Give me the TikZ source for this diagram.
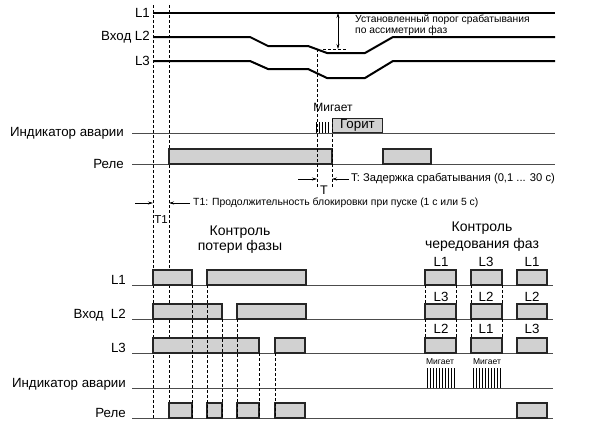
\documentclass[tikz,border=0pt]{standalone}
\usepackage{fontspec}
\setmainfont{Liberation Sans}
\usetikzlibrary{arrows.meta}

\begin{document}
\begin{tikzpicture}[x=1pt,y=-1pt,
    font=\fontsize{13.3}{15}\selectfont,
    phase/.style={line width=2pt,line join=round},
    track/.style={line width=0.9pt,black!70},
    pulse/.style={draw=black!85,line width=1.1pt,fill=black!18},
    guide/.style={dash pattern=on 3pt off 2pt,line width=0.6pt},
    dim/.style={-{Stealth[length=5pt,width=3pt]},line width=0.6pt},
    blink/.style={line width=0.8pt},
    lbl/.style={anchor=east,inner sep=0pt},
    lblb/.style={anchor=base east,inner sep=0pt},
    note/.style={anchor=west,inner sep=0pt,font=\fontsize{10.8}{12}\selectfont},
    tiny/.style={font=\fontsize{8.5}{9}\selectfont,inner sep=0pt}]
  \useasboundingbox (0,0) rectangle (608,423);

  \node[lbl] (inL1) at (150,13) {L1};
  \node[lbl] (inL2) at (150,37) {Вход L2};
  \node[lbl] (inL3) at (150,61) {L3};
  \node[lbl] (alarmTop) at (124,133) {Индикатор аварии};
  \node[lbl] (relayTop) at (124,164) {Реле};

  \draw[guide] (153,5) -- (153,418);
  \draw[guide] (169,5) -- (169,418);

  \draw[phase] (153,13) -- (555,13);
  \draw[phase] (153,37) -- (250,37) -- (268,46) -- (308,46) -- (327,53) -- (365,53) -- (393,37) -- (555,37);
  \draw[phase] (153,61) -- (250,61) -- (268,69) -- (308,69) -- (327,78) -- (365,78) -- (393,61) -- (555,61);

  \coordinate (thrTop) at (338,13);
  \coordinate (thrLow) at (338,49);
  \draw[dim,{Stealth[length=5pt,width=3pt]}-{Stealth[length=5pt,width=3pt]}] (thrTop) -- (thrLow);
  \draw[guide] (323,49) -- (347,49);
  \node[anchor=west,align=left,inner sep=0pt,font=\fontsize{10.3}{9.3}\selectfont] (thrText) at (355,25.5)
    {Установленный порог срабатывания\\по ассиметрии фаз};

  \draw[track] (alarmTop.east) ++(8,0) -- (555,133);
  \draw[track] (relayTop.east) ++(8,0) -- (555,164);
  \draw[pulse] (169,164) rectangle (332,149);
  \draw[pulse] (383,164) rectangle (431,149);

  \node[inner sep=0pt,font=\fontsize{12}{13}\selectfont] (blinkTop) at (333,107) {Мигает};
  \foreach \i in {0,...,4}
    \draw[blink] (316+\i*3.2,122) -- ++(0,11);
  \node[pulse,line width=0.9pt,minimum width=50pt,minimum height=14pt,inner sep=0pt,anchor=south west] (litTop) at (332,133) {Горит};

  \draw[guide] (317,49) -- (317,187);
  \draw[guide] (332,119) -- (332,187);

  \coordinate (tLeft) at (298,179);
  \coordinate (tA) at (317,179);
  \coordinate (tB) at (332,179);
  \coordinate (tRight) at (349,179);
  \draw[dim] (tLeft) -- (tA);
  \draw[dim] (tRight) -- (tB);
  \node[inner sep=0pt,font=\fontsize{12.5}{13}\selectfont] (tMark) at (324,190) {T};
  \node[note,font=\fontsize{11.2}{12}\selectfont] (tText) at (351,179) {T: Задержка срабатывания (0,1 ... 30 с)};

  \coordinate (t1Left) at (135,203);
  \coordinate (t1A) at (153,203);
  \coordinate (t1B) at (169,203);
  \coordinate (t1Right) at (190,203);
  \draw[dim] (t1Left) -- (t1A);
  \draw[dim] (t1Right) -- (t1B);
  \node[note,font=\fontsize{10.4}{12}\selectfont] (t1Text) at (193,203) {T1: Продолжительность блокировки при пуске (1 с или 5 с)};
  \node[inner sep=0pt,font=\fontsize{11.5}{12}\selectfont] (t1Mark) at (161,220) {T1};

  \node[align=center,inner sep=0pt,font=\fontsize{14}{15.5}\selectfont] (lossTitle) at (240,239.5) {Контроль\\потери фазы};
  \node[align=center,inner sep=0pt,font=\fontsize{14}{17}\selectfont] (seqTitle) at (482,236.5) {Контроль\\чередования фаз};

  \node[lblb] (outL1) at (126,284) {L1};
  \node[lblb] (outL2) at (126,318) {Вход\ \ L2};
  \node[lblb] (outL3) at (126,352) {L3};
  \node[lblb] (alarmBot) at (126,387) {Индикатор аварии};
  \node[lblb] (relayBot) at (126,417) {Реле};

  \foreach \y in {285,319,353,388,418}
    \draw[track] (132,\y) -- (553,\y);

  \foreach \a/\b/\y in {153/192/285,207/306/285,425/456/285,471/502/285,517/547/285,
                        153/222/319,237/306/319,425/456/319,471/502/319,517/547/319,
                        153/259/353,275/305/353,425/456/353,471/502/353,517/547/353,
                        169/192/418,207/222/418,237/259/418,275/305/418,517/547/418}
    \draw[pulse] (\a,\y) rectangle (\b,{\y-15});

  \foreach \x/\y in {192/285,207/285,222/319,237/319,259/353,275/353}
    \draw[guide] (\x,\y) -- (\x,418);
  \foreach \x in {425,456,471,502} {
    \draw[guide] (\x,285) -- (\x,304);
    \draw[guide] (\x,319) -- (\x,338);
  }

  \node[inner sep=0pt] (seqA1) at (441,262) {L1};
  \node[inner sep=0pt] (seqB1) at (486,262) {L3};
  \node[inner sep=0pt] (seqC1) at (532,262) {L1};
  \node[inner sep=0pt] (seqA2) at (441,297) {L3};
  \node[inner sep=0pt] (seqB2) at (486,297) {L2};
  \node[inner sep=0pt] (seqC2) at (532,297) {L2};
  \node[inner sep=0pt] (seqA3) at (441,329) {L2};
  \node[inner sep=0pt] (seqB3) at (486,329) {L1};
  \node[inner sep=0pt] (seqC3) at (532,329) {L3};

  \node[tiny] (blinkA) at (440,362) {Мигает};
  \node[tiny] (blinkB) at (487,362) {Мигает};
  \foreach \s in {427,473}
    \foreach \i in {0,...,9}
      \draw[blink] (\s+\i*3,368) -- ++(0,20);
\end{tikzpicture}
\end{document}
